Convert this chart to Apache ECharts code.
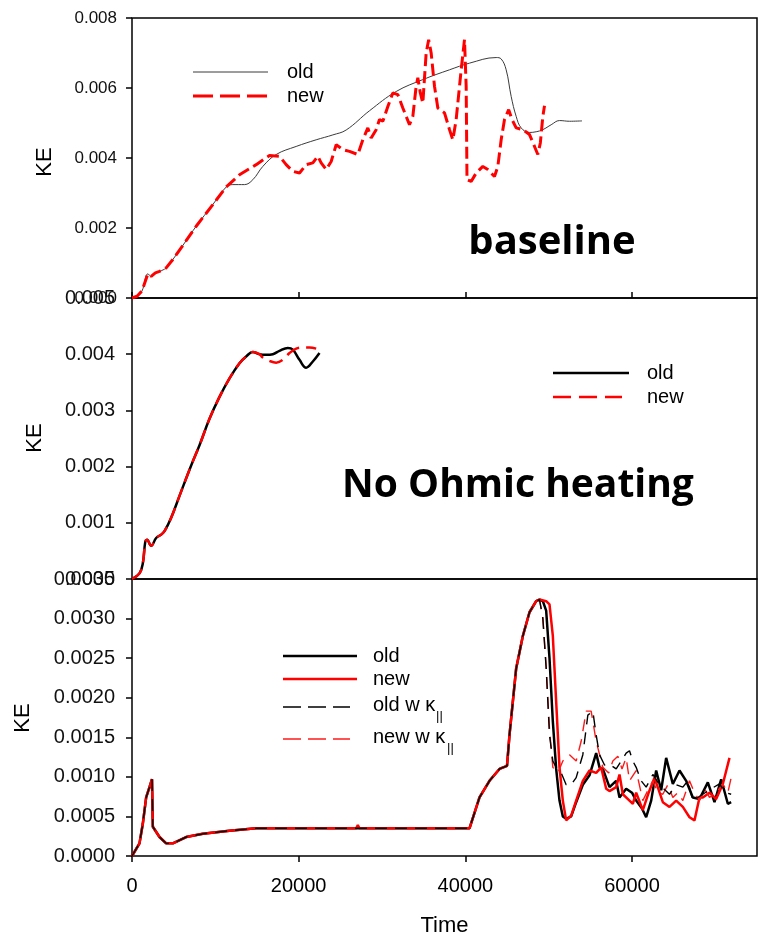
<!DOCTYPE html>
<html><head><meta charset="utf-8">
<script src="https://cdn.jsdelivr.net/npm/echarts@6/dist/echarts.min.js"></script>
<style>html,body{margin:0;padding:0;background:#fff}#c{width:758px;height:938px}</style>
</head><body><div id="c"></div>
<script>
// ---- data (time, KE) ----
var xTicks = [0, 20000, 40000, 60000];
var p1Ticks = [0, 0.002, 0.004, 0.006, 0.008];
var p2Ticks = [0, 0.001, 0.002, 0.003, 0.004, 0.005];
var p3Ticks = [0, 0.0005, 0.001, 0.0015, 0.002, 0.0025, 0.003, 0.0035];

var p1Old = [[0,0],[600,0.00005],[1200,0.0002],[1900,0.00069],[2300,0.00062],[2800,0.00072],[3300,0.00076],[4100,0.00086],[4900,0.0011],[6300,0.00157],[7700,0.00205],[9700,0.00267],[11300,0.00317],[12100,0.00324],[13500,0.00324],[14500,0.00338],[15700,0.00376],[17300,0.0041],[19700,0.00433],[22100,0.00452],[24100,0.00466],[25700,0.0048],[28500,0.00535],[31700,0.0059],[34900,0.00624],[38100,0.00652],[40500,0.00671],[43700,0.00687],[44300,0.00683],[44900,0.00652],[45500,0.00576],[46100,0.00519],[46700,0.00486],[47700,0.00473],[48500,0.00475],[49300,0.00481],[50300,0.00495],[51300,0.00507],[52500,0.00505],[54000,0.00506]];
var p1New = [[0,0],[600,0.00005],[1200,0.0002],[1900,0.00069],[2300,0.00062],[2800,0.00072],[3300,0.00076],[4100,0.00086],[4900,0.0011],[6300,0.00157],[7700,0.00205],[9700,0.00267],[11300,0.00317],[12900,0.00352],[14900,0.00381],[16500,0.00407],[17700,0.00405],[18500,0.00381],[19300,0.00362],[20100,0.00357],[20900,0.00381],[21700,0.00386],[22300,0.00405],[22700,0.00386],[23300,0.00367],[23900,0.0039],[24500,0.00438],[25300,0.00424],[26100,0.00419],[27100,0.0041],[27700,0.00452],[28300,0.00486],[28700,0.00457],[29300,0.00481],[29700,0.0051],[30100,0.00505],[30700,0.00547],[31300,0.00586],[31900,0.00581],[32500,0.00543],[33300,0.00495],[33700,0.00519],[34100,0.00605],[34300,0.00629],[34600,0.00586],[34900,0.00557],[35300,0.007],[35600,0.00738],[35900,0.007],[36300,0.00605],[36700,0.00543],[37500,0.00529],[38100,0.00481],[38500,0.00452],[38900,0.0051],[39500,0.00652],[39900,0.00738],[40100,0.00605],[40200,0.00338],[40700,0.00333],[41300,0.00357],[42100,0.00376],[42700,0.00367],[43500,0.00347],[43900,0.00376],[44300,0.00452],[44700,0.0051],[45200,0.00538],[45600,0.0051],[46100,0.00486],[46900,0.00481],[47700,0.00467],[48300,0.00433],[48700,0.0041],[49000,0.00443],[49300,0.00519],[49500,0.00549]];

var p2Old = [[0,0],[900,0.0001],[1300,0.00028],[1600,0.00067],[1800,0.0007],[2300,0.00059],[2900,0.00073],[3500,0.00079],[3900,0.00085],[4700,0.00109],[5700,0.00148],[7100,0.00202],[8100,0.00238],[9300,0.00285],[10500,0.00324],[11700,0.00357],[12900,0.00384],[13700,0.00396],[14500,0.00404],[15300,0.004],[16100,0.00399],[16900,0.004],[17700,0.00406],[18700,0.00411],[19300,0.00408],[20100,0.0039],[20900,0.00376],[21700,0.00387],[22500,0.00402]];
var p2New = [[0,0],[900,0.0001],[1300,0.00028],[1600,0.00067],[1800,0.0007],[2300,0.00059],[2900,0.00073],[3500,0.00079],[3900,0.00085],[4700,0.00109],[5700,0.00148],[7100,0.00202],[8100,0.00238],[9300,0.00285],[10500,0.00324],[11700,0.00357],[12900,0.00384],[13700,0.00396],[14500,0.00404],[15300,0.004],[15700,0.00394],[16500,0.00388],[17300,0.00385],[18100,0.0039],[18900,0.00402],[19700,0.0041],[20500,0.00412],[21300,0.00412],[22100,0.0041]];

// panel 3: common early history, then the four runs
var p3Early = [[0,0],[900,0.00016],[1300,0.00041],[1700,0.00074],[2100,0.00087],[2400,0.00097],[2500,0.00037],[3300,0.00024],[4100,0.00016],[4900,0.00016],[6500,0.00024],[8500,0.00028],[11700,0.00032],[14900,0.00035],[40500,0.00035],[41700,0.00074],[42900,0.00095],[44100,0.0011],[45000,0.00114],[45300,0.00153],[46100,0.00237],[46900,0.00278],[47700,0.00308],[48500,0.00322],[48900,0.00324]];
var p3NewBlip = [[26900,0.00035],[27100,0.00039],[27300,0.00035]];
var p3OldLate = [[49300,0.00322],[49700,0.0031],[50100,0.0025],[50500,0.0017],[50900,0.0011],[51300,0.0007],[51700,0.0005],[52100,0.00047],[52700,0.0005],[53300,0.00068],[54100,0.0009],[54900,0.00102],[55700,0.0013],[56100,0.00112],[56500,0.0011],[57300,0.00087],[58100,0.00095],[58500,0.00074],[59300,0.00085],[60000,0.0008],[60500,0.0007],[61200,0.0006],[61700,0.00049],[62300,0.0007],[62900,0.00108],[63500,0.00083],[64100,0.00124],[64900,0.00091],[65700,0.00108],[66500,0.00095],[67300,0.00074],[68100,0.00072],[69100,0.00093],[69900,0.00068],[70700,0.00097],[71500,0.00066],[71900,0.00068]];
var p3NewLate = [[49700,0.00322],[50100,0.00318],[50500,0.00278],[50900,0.00195],[51300,0.00112],[51700,0.0007],[52100,0.00045],[52700,0.00051],[53300,0.0007],[54100,0.00095],[54900,0.00108],[55700,0.00105],[56300,0.00112],[56900,0.00085],[57300,0.00082],[58100,0.00087],[58500,0.00103],[58900,0.00078],[59700,0.0007],[60100,0.00066],[60500,0.0008],[61300,0.00058],[62000,0.0008],[62700,0.00099],[63700,0.00068],[64500,0.00062],[65300,0.0007],[66100,0.00062],[66900,0.00049],[67500,0.00045],[68100,0.00074],[68500,0.00074],[69300,0.0008],[70100,0.00072],[70900,0.00091],[71700,0.00124]];
var p3OldKLate = [[49300,0.003],[49700,0.00237],[50100,0.00153],[50500,0.0012],[50900,0.00112],[51500,0.00105],[52100,0.0009],[52700,0.0009],[53300,0.00099],[54100,0.00128],[54700,0.00178],[55300,0.00183],[55700,0.00153],[56100,0.00128],[56700,0.00115],[57300,0.00116],[58100,0.0011],[58700,0.0012],[59300,0.0013],[59700,0.00133],[60100,0.0012],[60500,0.00112],[61100,0.00095],[61700,0.00087],[62500,0.00103],[63300,0.0009],[64500,0.00078],[65300,0.0009],[66100,0.00087],[66700,0.00095],[67300,0.0007],[68500,0.00078],[69500,0.00085],[70500,0.00091],[71200,0.0008],[71900,0.00078]];
var p3NewKLate = [[49300,0.00302],[49700,0.0024],[50100,0.0016],[50500,0.00112],[51100,0.00105],[51700,0.0012],[52500,0.00128],[53300,0.0012],[53900,0.00145],[54500,0.00183],[55100,0.00183],[55700,0.00145],[56500,0.00112],[57200,0.00105],[57700,0.0012],[58300,0.00126],[58800,0.0011],[59300,0.00124],[59700,0.00095],[60500,0.00108],[61300,0.0007],[62000,0.00085],[62500,0.00095],[63100,0.0008],[63700,0.00078],[64300,0.0009],[64900,0.00074],[65500,0.0008],[66100,0.0007],[66900,0.00095],[67500,0.0008],[68100,0.0007],[68700,0.00085],[69300,0.00074],[70100,0.0008],[70900,0.00091],[71500,0.0008],[71900,0.00099]];

function withBlip(early, blip) {
  var out = early.filter(function (p) { return p[0] < blip[0][0]; });
  out = out.concat(blip);
  return out.concat(early.filter(function (p) { return p[0] > blip[blip.length - 1][0]; }));
}
var p3Old = p3Early.concat(p3OldLate);
var p3New = withBlip(p3Early, p3NewBlip).concat(p3NewLate);
var p3OldK = p3Early.concat(p3OldKLate);
var p3NewK = p3Early.concat(p3NewKLate);

// ---- chart ----
var FONT = 'Liberation Sans, Arial, sans-serif';
var TITLE_FONT = 'Open Sans, sans-serif';
var chart = echarts.init(document.getElementById('c'), null, {renderer: 'canvas'});
var L = 132, W = 625;
var gridBox = {show: true, borderColor: '#000', borderWidth: 1.5, backgroundColor: 'transparent', left: L, width: W};

function xAx(i, showLabels, inside) {
  return {
    type: 'value', gridIndex: i, min: 0, max: 75000, interval: 20000,
    axisLine: {show: false}, splitLine: {show: false},
    axisTick: {show: i !== 1, inside: inside, length: 6, customValues: xTicks, lineStyle: {color: '#000', width: 1.5}},
    axisLabel: {show: showLabels, customValues: xTicks, margin: 20, fontSize: 20, color: '#000', fontFamily: FONT,
      formatter: function (v) { return String(v); }},
    name: showLabels ? 'Time' : '', nameLocation: 'middle', nameGap: 59,
    nameTextStyle: {fontSize: 22, color: '#000', fontFamily: FONT}
  };
}
function yAx(i, max, interval, dec, fs, margin) {
  return {
    type: 'value', gridIndex: i, min: 0, max: max, interval: interval,
    axisLine: {show: false}, splitLine: {show: false},
    axisTick: {show: true, length: 6, lineStyle: {color: '#000', width: 1.5}},
    axisLabel: {margin: margin, fontSize: fs, color: '#111', fontFamily: FONT,
      formatter: function (v) { return v.toFixed(dec); }}
  };
}
function ser(name, xi, data, color, width, type, smooth, z) {
  return {name: name, type: 'line', xAxisIndex: xi, yAxisIndex: xi, data: data,
    showSymbol: false, symbol: 'none', smooth: smooth, z: z, animation: false,
    lineStyle: {color: color, width: width, type: type}};
}

function legLine(x1, x2, y, color, w, dash) {
  return {type: 'line', shape: {x1: x1, y1: y, x2: x2, y2: y},
    style: {stroke: color, lineWidth: w, lineDash: dash || null}, z: 100};
}
function txt(x, y, s, fs, opts) {
  opts = opts || {};
  return {type: 'text', x: x, y: y, rotation: opts.rot || 0, z: 100,
    style: {text: s, fontSize: fs, fontFamily: opts.ff || FONT, fontWeight: opts.fw || 'normal',
      fill: '#000', textAlign: opts.align || 'left', textVerticalAlign: 'middle'}};
}

var option = {
  animation: false,
  backgroundColor: '#fff',
  grid: [
    Object.assign({}, gridBox, {top: 18, height: 280}),
    Object.assign({}, gridBox, {top: 298, height: 281}),
    Object.assign({}, gridBox, {top: 579, height: 280})
  ],
  xAxis: [xAx(0, false, true), xAx(1, false, false), xAx(2, true, false)],
  yAxis: [yAx(0, 0.008, 0.002, 3, 17, 15), yAx(1, 0.005, 0.001, 3, 20, 17), yAx(2, 0.0035, 0.0005, 4, 20, 17)],
  series: [
    ser('old', 0, p1Old, '#3a3a3a', 1, 'solid', 0.4, 2),
    ser('new', 0, p1New, '#ff0000', 3, [12, 5], false, 3),
    ser('old', 1, p2Old, '#000', 2.5, 'solid', 0.4, 2),
    ser('new', 1, p2New, '#ff0000', 2.5, [14, 7], 0.4, 3),
    ser('old', 2, p3Old, '#000', 2.5, 'solid', false, 2),
    ser('new', 2, p3New, '#ff0000', 2.5, 'solid', false, 3),
    ser('new w κ||', 2, p3NewK, '#ff1a1a', 1.4, [12, 8], false, 4),
    ser('old w κ||', 2, p3OldK, '#000', 1.4, [12, 8], false, 5)
  ],
  graphic: [
    // y-axis titles
    txt(45, 162, 'KE', 22, {rot: Math.PI / 2, align: 'center'}),
    txt(35, 438, 'KE', 22, {rot: Math.PI / 2, align: 'center'}),
    txt(23, 718, 'KE', 22, {rot: Math.PI / 2, align: 'center'}),
    // panel labels
    txt(552, 243, 'baseline', 40, {align: 'center', fw: 'bold', ff: TITLE_FONT}),
    txt(518, 486, 'No Ohmic heating', 39, {align: 'center', fw: 'bold', ff: TITLE_FONT}),
    // legend panel 1
    legLine(193, 268, 72, '#3a3a3a', 1),
    legLine(193, 268, 96, '#ff0000', 3, [20, 7]),
    txt(287, 72, 'old', 20), txt(287, 96, 'new', 20),
    // legend panel 2
    legLine(553, 629, 373, '#000', 2.5),
    legLine(553, 622, 397, '#ff0000', 2.5, [18, 8]),
    txt(647, 373, 'old', 20), txt(647, 397, 'new', 20),
    // legend panel 3
    legLine(283, 357, 656, '#000', 2.5),
    legLine(283, 357, 679, '#ff0000', 2.5),
    legLine(283, 350, 707, '#000', 1.4, [18, 7]),
    legLine(283, 350, 739, '#ff1a1a', 1.4, [18, 7]),
    txt(373, 656, 'old', 20), txt(373, 679, 'new', 20),
    txt(373, 705, 'old w κ', 20), txt(436, 716, '||', 13),
    txt(373, 737, 'new w κ', 20), txt(447, 748, '||', 13)
  ]
};
chart.setOption(option);
</script></body></html>
